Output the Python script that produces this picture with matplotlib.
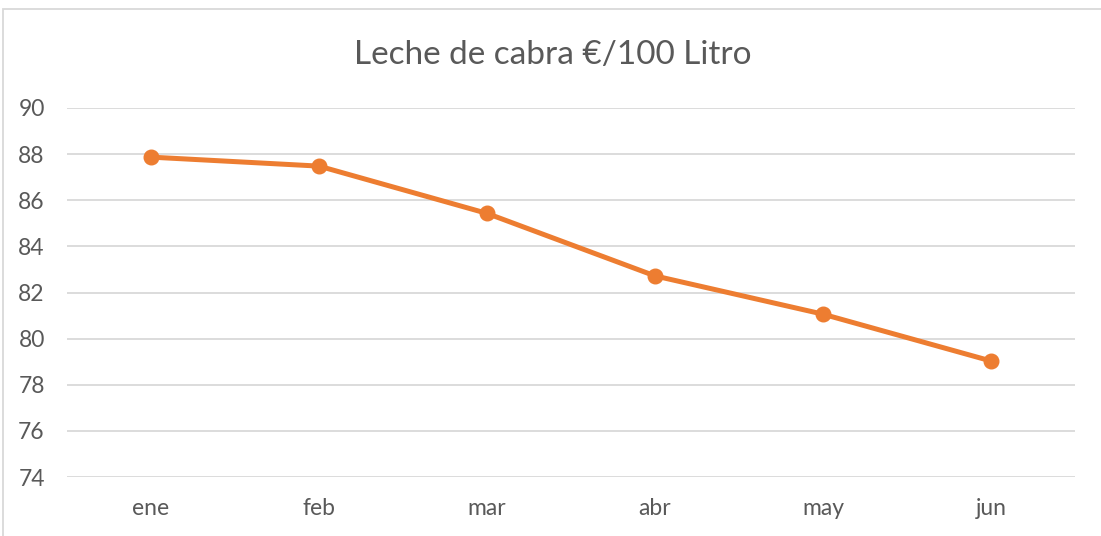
import matplotlib.pyplot as plt
from matplotlib.patches import Rectangle

# Datos
meses = ["ene", "feb", "mar", "abr", "may", "jun"]
precios = [87.87, 87.48, 85.43, 82.72, 81.06, 79.03]
y_ticks = [74, 76, 78, 80, 82, 84, 86, 88, 90]

plt.rcParams["font.family"] = ["Lato", "DejaVu Sans"]

fig = plt.figure(figsize=(11.01, 5.36), dpi=100)
ax = fig.add_axes([67 / 1101, 1 - 477 / 536, 1008 / 1101, 369 / 536])

x = range(len(meses))
ax.plot(x, precios, color="#ED7D31", linewidth=3.6, marker="o", markersize=10.5,
        solid_capstyle="round", zorder=3)

ax.set_xlim(-0.5, len(meses) - 0.5)
ax.set_ylim(74, 90)
ax.set_yticks(y_ticks)
ax.set_xticks(list(x))
ax.set_xticklabels(meses)

ax.grid(axis="y", color="#D9D9D9", linewidth=1.3)
ax.set_axisbelow(True)
for s in ax.spines.values():
    s.set_visible(False)
ax.tick_params(axis="both", length=0, labelsize=16.5, colors="#595959")
ax.tick_params(axis="x", pad=15)
ax.tick_params(axis="y", pad=16)

fig.text(553 / 1101, 1 - 55 / 536, "Leche de cabra €/100 Litro", ha="center", va="center",
         fontsize=24, color="#595959")

# Marco del gráfico
fig.patches.append(Rectangle((3 / 1101, -0.1), 1.2, 1 - 9 / 536 + 0.1, transform=fig.transFigure,
                             fill=False, edgecolor="#D9D9D9", linewidth=1.3))

fig.savefig("out.png", dpi=100)
